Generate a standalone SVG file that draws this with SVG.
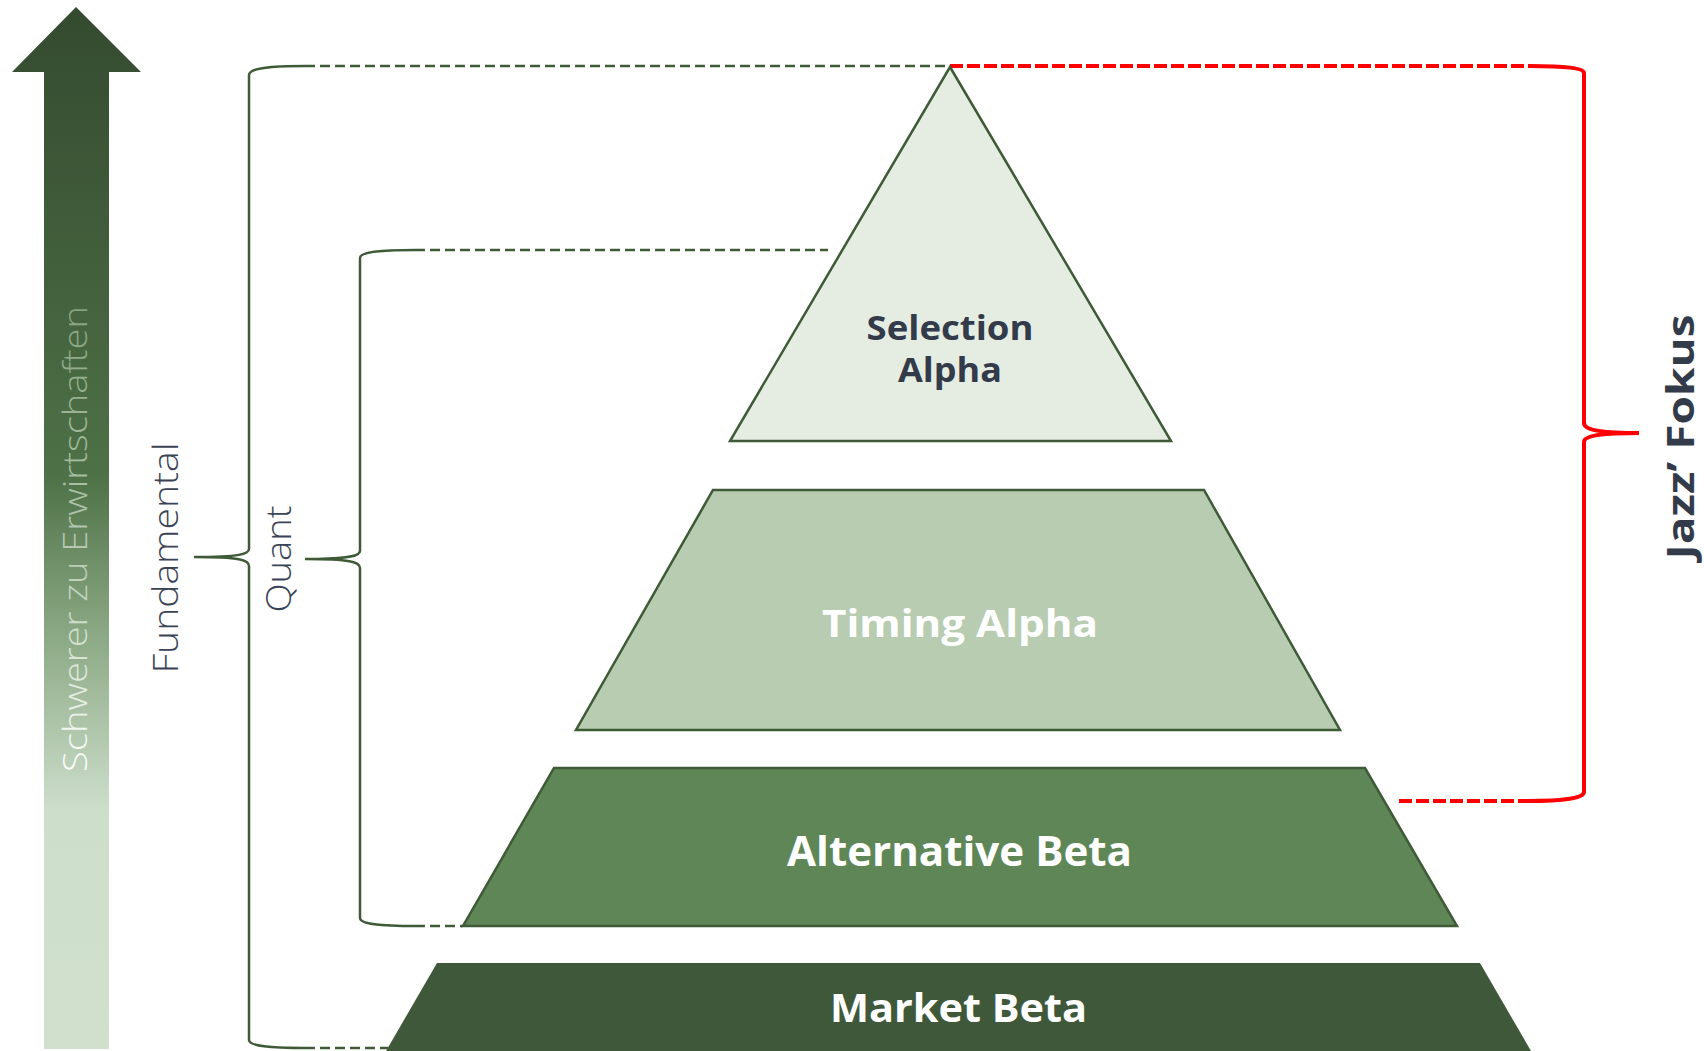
<svg xmlns="http://www.w3.org/2000/svg" width="1704" height="1051" viewBox="0 0 1704 1051">
  <defs>
    <linearGradient id="arrowGrad" gradientUnits="userSpaceOnUse" x1="0" y1="7" x2="0" y2="1049">
      <stop offset="0" stop-color="#344a2f"/>
      <stop offset="0.45" stop-color="#4e7147"/>
      <stop offset="0.6" stop-color="#8aa883"/>
      <stop offset="0.77" stop-color="#cddecb"/>
      <stop offset="1" stop-color="#d0e0cc"/>
    </linearGradient>
    <!-- defined in the rotated text's own coordinates: +x is up the page -->
    <linearGradient id="textGrad" gradientUnits="userSpaceOnUse" x1="233" y1="0" x2="-233" y2="0">
      <stop offset="0" stop-color="#86a280"/>
      <stop offset="0.5" stop-color="#b3c8ae"/>
      <stop offset="1" stop-color="#ffffff"/>
    </linearGradient>
    <style>
      .layer { stroke: #3e5a37; stroke-width: 2.5; stroke-linejoin: miter; }
      .lbl { font-family: "Open Sans", "Liberation Sans", sans-serif; font-weight: 700; text-anchor: middle; }
      .dark { fill: #333b4a; }
      .light { fill: #ffffff; }
      .side { font-family: "Open Sans", "Liberation Sans", sans-serif; font-weight: 300; text-anchor: middle; fill: #3b4456; }
      .brace { fill: none; stroke: #3e5a37; stroke-width: 2.5; }
      .gdash { fill: none; stroke: #3e5a37; stroke-width: 2.5; stroke-dasharray: 10 5; }
      .rbrace { fill: none; stroke: #ff0000; stroke-width: 4; }
      .rdash { fill: none; stroke: #ff0000; stroke-width: 4; stroke-dasharray: 13 4; }
    </style>
  </defs>
  <rect width="1704" height="1051" fill="#ffffff"/>

  <g id="arrow">
    <polygon points="76,7 141,72 109,72 109,1049 44,1049 44,72 12,72" fill="url(#arrowGrad)"/>
    <text transform="translate(87,539) rotate(-90)" text-anchor="middle" font-family="'Open Sans', 'Liberation Sans', sans-serif" font-weight="300" font-size="33" fill="url(#textGrad)" textLength="466" lengthAdjust="spacingAndGlyphs">Schwerer zu Erwirtschaften</text>
  </g>

  <g id="connectors">
    <path class="brace" d="M305,66 C270,66 249,68 249,75 L249,549 C249,554 240,557 194,557 C240,557 249,560 249,566 L249,1040 C249,1046 270,1048 305,1048"/>
    <line class="gdash" x1="305" y1="66" x2="950" y2="66"/>
    <line class="gdash" x1="305" y1="1048" x2="388" y2="1048"/>
    <path class="brace" d="M415,250 C380,250 360,252 360,258 L360,551 C360,556 350,559 305,559 C350,559 360,562 360,568 L360,918 C360,924 380,926 415,926"/>
    <line class="gdash" x1="415" y1="250" x2="828" y2="250"/>
    <line class="gdash" x1="415" y1="926" x2="463" y2="926"/>
    <path class="rbrace" d="M1530,66 C1565,66 1584,68 1584,73 L1584,423 C1584,430 1600,433 1639,433 C1600,433 1584,436 1584,442 L1584,792 C1584,798 1565,801 1527,801"/>
    <line class="rdash" x1="950" y1="66" x2="1530" y2="66"/>
    <line class="rdash" x1="1399" y1="801" x2="1527" y2="801"/>
  </g>

  <g id="market-beta">
    <polygon points="437,963 1480,963 1531,1051 386,1051" fill="#40583a"/>
    <text class="lbl light" x="958.5" y="1022" font-size="40" textLength="257" lengthAdjust="spacingAndGlyphs">Market Beta</text>
  </g>

  <g id="alternative-beta">
    <polygon class="layer" points="554,768 1365,768 1457,926 463,926" fill="#5f8657"/>
    <text class="lbl light" x="959.5" y="866" font-size="41" textLength="345" lengthAdjust="spacingAndGlyphs">Alternative Beta</text>
  </g>

  <g id="timing-alpha">
    <polygon class="layer" points="713,490 1204,490 1340,730 576,730" fill="#b7ccb1"/>
    <text class="lbl light" x="960" y="637" font-size="38" textLength="276" lengthAdjust="spacingAndGlyphs">Timing Alpha</text>
  </g>

  <g id="selection-alpha">
    <polygon class="layer" points="950,67 1171,441 730,441" fill="#e5ede3"/>
    <text class="lbl dark" x="950" y="340" font-size="34" textLength="167" lengthAdjust="spacingAndGlyphs">Selection</text>
    <text class="lbl dark" x="950" y="382" font-size="34" textLength="104" lengthAdjust="spacingAndGlyphs">Alpha</text>
  </g>

  <g id="fundamental-label">
    <text class="side" transform="translate(178,558) rotate(-90)" font-size="34" textLength="231" lengthAdjust="spacingAndGlyphs">Fundamental</text>
  </g>
  <g id="quant-label">
    <text class="side" transform="translate(291,559) rotate(-90)" font-size="34" textLength="107" lengthAdjust="spacingAndGlyphs">Quant</text>
  </g>
  <g id="jazz-label">
    <text class="lbl dark" transform="translate(1694,437) rotate(-90)" font-size="38" textLength="245" lengthAdjust="spacingAndGlyphs">Jazz’ Fokus</text>
  </g>
</svg>
